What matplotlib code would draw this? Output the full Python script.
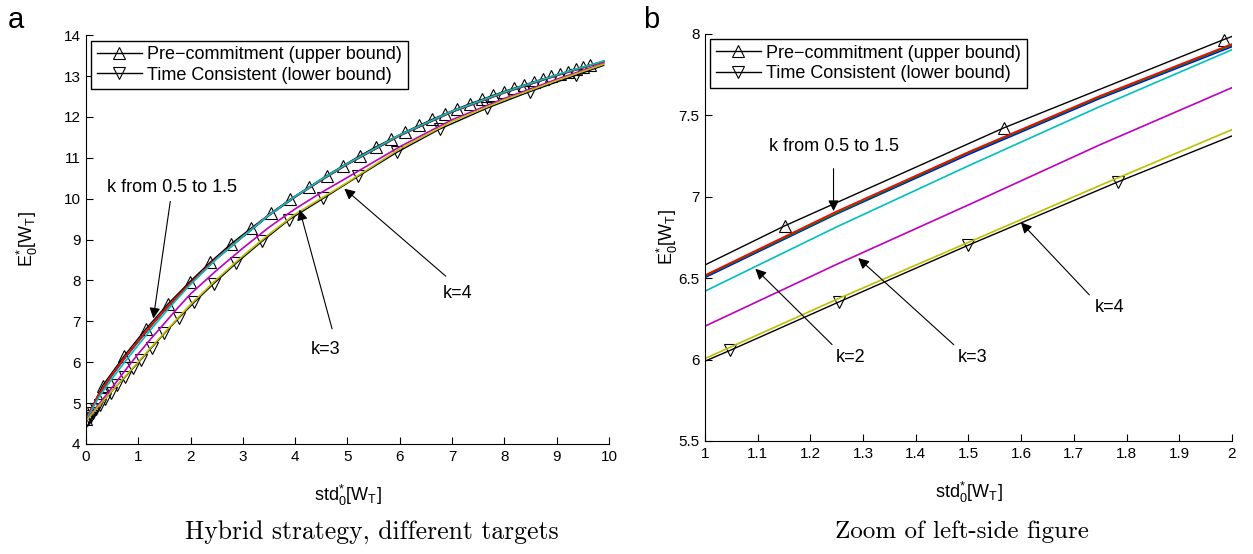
import matplotlib
matplotlib.use('Agg')
import matplotlib.pyplot as plt
from matplotlib.ticker import FormatStrFormatter

plt.rcParams['font.family'] = ['Liberation Sans', 'DejaVu Sans']
plt.rcParams['mathtext.fontset'] = 'custom'
plt.rcParams['mathtext.rm'] = 'Liberation Sans'
plt.rcParams['mathtext.it'] = 'Liberation Sans:italic'

# Pre-commitment (upper bound), one point per marker
pc_x = [0, 0.32, 0.735, 1.151, 1.567, 1.984, 2.38, 2.78, 3.16, 3.54, 3.91, 4.26, 4.60,
        4.92, 5.24, 5.55, 5.84, 6.10, 6.37, 6.62, 6.86, 7.10, 7.34, 7.58, 7.79, 7.99,
        8.18, 8.38, 8.57, 8.74, 8.90, 9.06, 9.21, 9.37, 9.51, 9.64]
pc_y = [4.60, 5.43, 6.16, 6.821, 7.423, 7.965, 8.45, 8.90, 9.28, 9.65, 9.99, 10.28, 10.56,
        10.81, 11.05, 11.27, 11.46, 11.63, 11.79, 11.94, 12.07, 12.20, 12.32, 12.43, 12.53,
        12.62, 12.70, 12.78, 12.86, 12.93, 12.99, 13.05, 13.11, 13.17, 13.22, 13.27]

# Time consistent (lower bound)
tc_x = [0, 0.02, 0.05, 0.09, 0.14, 0.2, 0.27, 0.36, 0.47, 0.6, 0.75, 0.9, 1.048, 1.255,
        1.5, 1.784, 2.07, 2.44, 2.87, 3.37, 3.89, 4.54, 5.21, 5.94, 6.76, 7.66, 8.49,
        9.37, 9.9]
tc_y = [4.55, 4.58, 4.63, 4.69, 4.76, 4.85, 4.96, 5.09, 5.25, 5.44, 5.64, 5.85, 6.057,
        6.355, 6.703, 7.092, 7.465, 7.92, 8.42, 8.96, 9.49, 10.01, 10.55, 11.13, 11.70,
        12.21, 12.62, 13.02, 13.26]

# hybrid strategy for different k
k_x = [0, 0.25, 0.5, 0.75, 1, 1.25, 1.5, 1.75, 2, 2.5, 3, 3.5, 4, 4.5, 5, 6, 7, 8, 9, 9.9]
k05 = [4.60, 5.21, 5.68, 6.11, 6.504, 6.895, 7.26, 7.605, 7.922, 8.535, 9.07, 9.59, 10.04,
       10.45, 10.84, 11.54, 12.12, 12.59, 13.01, 13.35]
k10 = [4.60, 5.215, 5.69, 6.12, 6.511, 6.90, 7.268, 7.612, 7.93, 8.54, 9.075, 9.595, 10.045,
       10.455, 10.845, 11.545, 12.125, 12.595, 13.015, 13.355]
k15 = [4.60, 5.22, 5.70, 6.13, 6.518, 6.91, 7.275, 7.62, 7.938, 8.55, 9.08, 9.60, 10.05,
       10.46, 10.85, 11.55, 12.13, 12.60, 13.02, 13.36]
k2 = [4.58, 5.15, 5.60, 6.02, 6.42, 6.815, 7.19, 7.555, 7.903, 8.53, 9.075, 9.60, 10.055,
      10.47, 10.86, 11.56, 12.14, 12.61, 13.03, 13.37]
k3 = [4.57, 4.98, 5.38, 5.80, 6.205, 6.585, 6.95, 7.32, 7.67, 8.25, 8.79, 9.30, 9.75,
      10.15, 10.52, 11.27, 11.93, 12.45, 12.92, 13.31]
k4 = [4.56, 4.94, 5.30, 5.655, 6.006, 6.37, 6.72, 7.07, 7.412, 8.03, 8.60, 9.13, 9.62,
      10.01, 10.40, 11.22, 11.89, 12.42, 12.89, 13.29]

k_curves = [k05, k10, k15, k2, k3, k4]
k_colors = ['#0000ff', '#008000', '#ff0000', '#00bfbf', '#bf00bf', '#bfbf00']

FS = 13


def draw_curves(ax):
    ax.plot(pc_x, pc_y, color='k', lw=1.0, marker='^', ms=8, mfc='none', mec='k', mew=0.8,
            label='Pre\u2212commitment (upper bound)')
    ax.plot(tc_x, tc_y, color='k', lw=1.0, marker='v', ms=8, mfc='none', mec='k', mew=0.8,
            markevery=slice(0, len(tc_x) - 1), label='Time Consistent (lower bound)')
    for ys, c in zip(k_curves, k_colors):
        ax.plot(k_x, ys, color=c, lw=1.2)
    leg = ax.legend(loc='upper left', fontsize=FS, frameon=True, fancybox=False,
                    edgecolor='k', framealpha=1, handlelength=2.5, borderpad=0.3,
                    labelspacing=0.2, handletextpad=0.3, borderaxespad=0.3)
    leg.get_frame().set_linewidth(1.0)


def style_axes(ax, ylab_x):
    ax.spines['top'].set_visible(False)
    ax.spines['right'].set_visible(False)
    ax.tick_params(direction='in', length=5, labelsize=11, pad=4)
    ax.set_xlabel(r'std$_{\mathrm{0}}^{\mathrm{*}}$[W$_{\mathrm{T}}$]', fontsize=FS)
    ax.set_ylabel(r'E$_{\mathrm{0}}^{\mathrm{*}}$[W$_{\mathrm{T}}$]', fontsize=FS)
    ax.xaxis.set_label_coords(0.5, -0.095)
    ax.yaxis.set_label_coords(ylab_x, 0.5)


def arrow(ax, text, tip, start, textpos):
    ax.annotate('', xy=tip, xytext=start,
                arrowprops=dict(arrowstyle='-|>', color='k', lw=0.8, mutation_scale=16))
    ax.text(textpos[0], textpos[1], text, fontsize=FS, ha='center', va='center')


fig = plt.figure(figsize=(12.53, 5.54), dpi=100)
ax1 = fig.add_axes([0.0686, 0.1986, 0.4174, 0.738])
ax2 = fig.add_axes([0.5626, 0.2040, 0.4206, 0.7347])

# left panel
draw_curves(ax1)
style_axes(ax1, -0.088)
ax1.set_xlim(0, 10)
ax1.set_ylim(4, 14)
ax1.set_xticks(range(0, 11))
ax1.set_yticks(range(4, 15))
arrow(ax1, 'k from 0.5 to 1.5', (1.28, 7.0), (1.62, 10.0), (1.65, 10.27))
arrow(ax1, 'k=3', (4.07, 9.80), (4.72, 6.75), (4.58, 6.32))
arrow(ax1, 'k=4', (4.90, 10.29), (6.92, 8.06), (7.11, 7.67))

# right panel (zoom)
draw_curves(ax2)
style_axes(ax2, -0.048)
ax2.set_xlim(1, 2)
ax2.set_ylim(5.5, 8)
ax2.set_xticks([1, 1.1, 1.2, 1.3, 1.4, 1.5, 1.6, 1.7, 1.8, 1.9, 2])
ax2.set_yticks([5.5, 6, 6.5, 7, 7.5, 8])
ax2.xaxis.set_major_formatter(FormatStrFormatter('%g'))
ax2.yaxis.set_major_formatter(FormatStrFormatter('%g'))
arrow(ax2, 'k from 0.5 to 1.5', (1.244, 6.895), (1.244, 7.19), (1.244, 7.31))
arrow(ax2, 'k=2', (1.092, 6.57), (1.245, 6.08), (1.276, 6.01))
arrow(ax2, 'k=3', (1.287, 6.635), (1.476, 6.08), (1.508, 6.01))
arrow(ax2, 'k=4', (1.596, 6.855), (1.733, 6.385), (1.767, 6.32))

# panel letters and captions
fig.text(0.006, 0.963, 'a', fontsize=21, va='center')
fig.text(0.513, 0.963, 'b', fontsize=21, va='center')
fig.text(0.297, 0.040, 'Hybrid strategy, different targets', fontsize=18.5,
         family='cmr10', ha='center', va='center')
fig.text(0.768, 0.040, 'Zoom of left-side figure', fontsize=18,
         family='cmr10', ha='center', va='center')

fig.savefig('out.png', dpi=100)
